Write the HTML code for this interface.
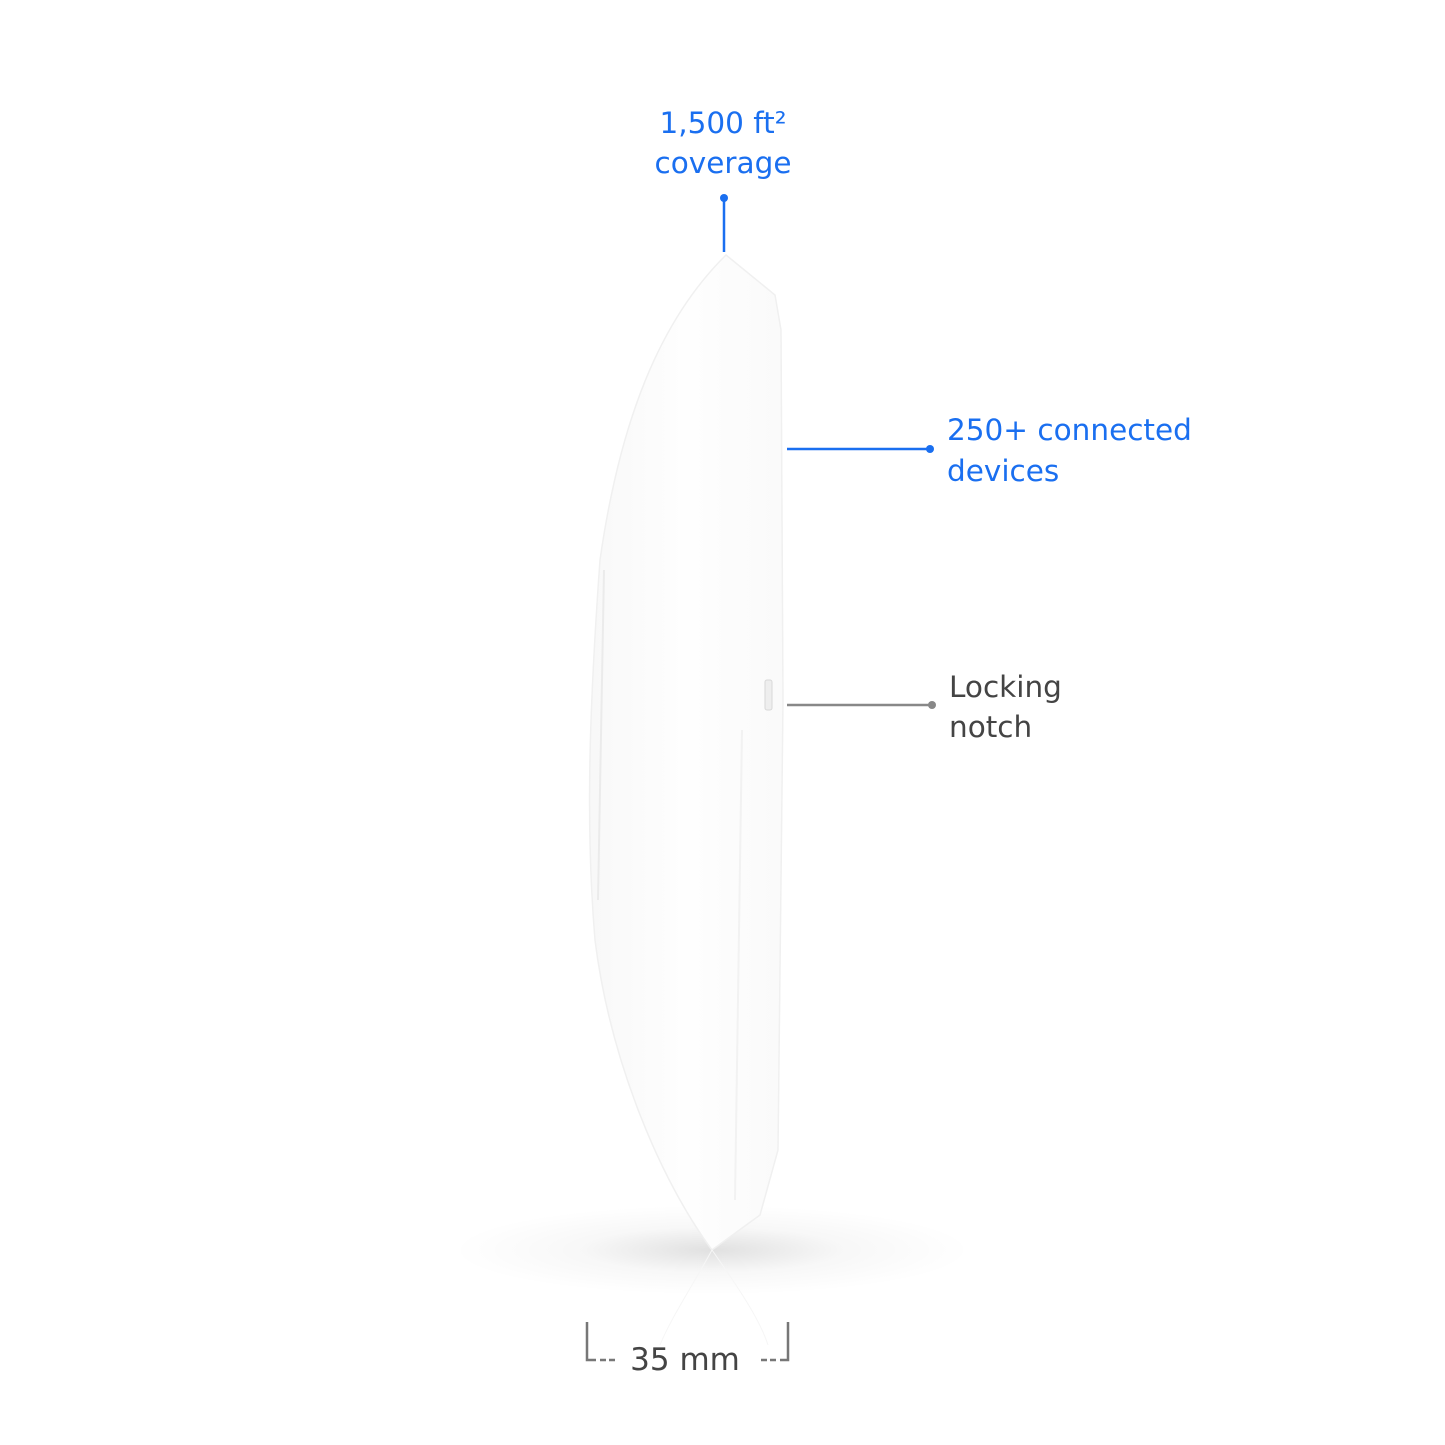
<!DOCTYPE html>
<html><head><meta charset="utf-8"><style>
html,body{margin:0;padding:0;background:#fff;}
svg{display:block}
text{font-family:"DejaVu Sans","Liberation Sans",sans-serif;}
</style></head><body>
<svg width="1445" height="1445" viewBox="0 0 1445 1445" xmlns="http://www.w3.org/2000/svg">
<defs>
<radialGradient id="sh" cx="0.5" cy="0.5" r="0.5">
<stop offset="0" stop-color="#000" stop-opacity="0.12"/>
<stop offset="0.5" stop-color="#000" stop-opacity="0.03"/>
<stop offset="1" stop-color="#000" stop-opacity="0"/>
</radialGradient>
<linearGradient id="body" x1="0" y1="0" x2="1" y2="0">
<stop offset="0" stop-color="#f8f8f8"/>
<stop offset="0.5" stop-color="#fefefe"/>
<stop offset="1" stop-color="#fafafa"/>
</linearGradient>
</defs>
<ellipse cx="712" cy="1250" rx="260" ry="45" fill="url(#sh)"/>
<path d="M726,255 L775,295 L781,330 L783,700 L778,1150 L760,1215 L712,1250 C660,1180 610,1060 595,940 C585,820 590,700 600,560 C620,420 660,320 726,255 Z" fill="url(#body)" stroke="#f0f0f0" stroke-width="1.5"/>
<path d="M742,730 L735,1200" stroke="#f2f2f2" stroke-width="2"/>
<path d="M604,570 L598,900" stroke="#ebebeb" stroke-width="2"/>
<rect x="765" y="680" width="7" height="30" rx="2" fill="#eee" stroke="#d8d8d8"/>
<path d="M712,1250 C690,1290 670,1320 660,1345 M712,1250 C740,1290 760,1320 768,1345" stroke="#f6f6f6" fill="none"/>
<text x="723" y="133" font-size="29.5" fill="#1a6ff0" text-anchor="middle">1,500 ft²</text>
<text x="723" y="173" font-size="29.5" fill="#1a6ff0" text-anchor="middle">coverage</text>
<line x1="724" y1="198" x2="724" y2="252" stroke="#1a6ff0" stroke-width="2.5"/>
<circle cx="724" cy="198" r="4" fill="#1a6ff0"/>
<line x1="787" y1="449" x2="930" y2="449" stroke="#1a6ff0" stroke-width="2.5"/>
<circle cx="930" cy="449" r="4" fill="#1a6ff0"/>
<text x="947" y="440" font-size="29.5" fill="#1a6ff0">250+ connected</text>
<text x="947" y="481" font-size="29.5" fill="#1a6ff0">devices</text>
<line x1="787" y1="705" x2="932" y2="705" stroke="#888" stroke-width="2.5"/>
<circle cx="932" cy="705" r="4" fill="#888"/>
<text x="949" y="697" font-size="29.5" fill="#444">Locking</text>
<text x="949" y="737" font-size="29.5" fill="#444">notch</text>
<path d="M587,1322 L587,1360 L596,1360" stroke="#777" stroke-width="2.5" fill="none"/>
<path d="M600,1360 L606,1360 M609,1360 L615,1360" stroke="#777" stroke-width="2.5"/>
<path d="M788,1322 L788,1360 L780,1360" stroke="#777" stroke-width="2.5" fill="none"/>
<path d="M761,1360 L767,1360 M770,1360 L776,1360" stroke="#777" stroke-width="2.5"/>
<text x="685" y="1370" font-size="31" fill="#444" text-anchor="middle">35 mm</text>
</svg>
</body></html>
